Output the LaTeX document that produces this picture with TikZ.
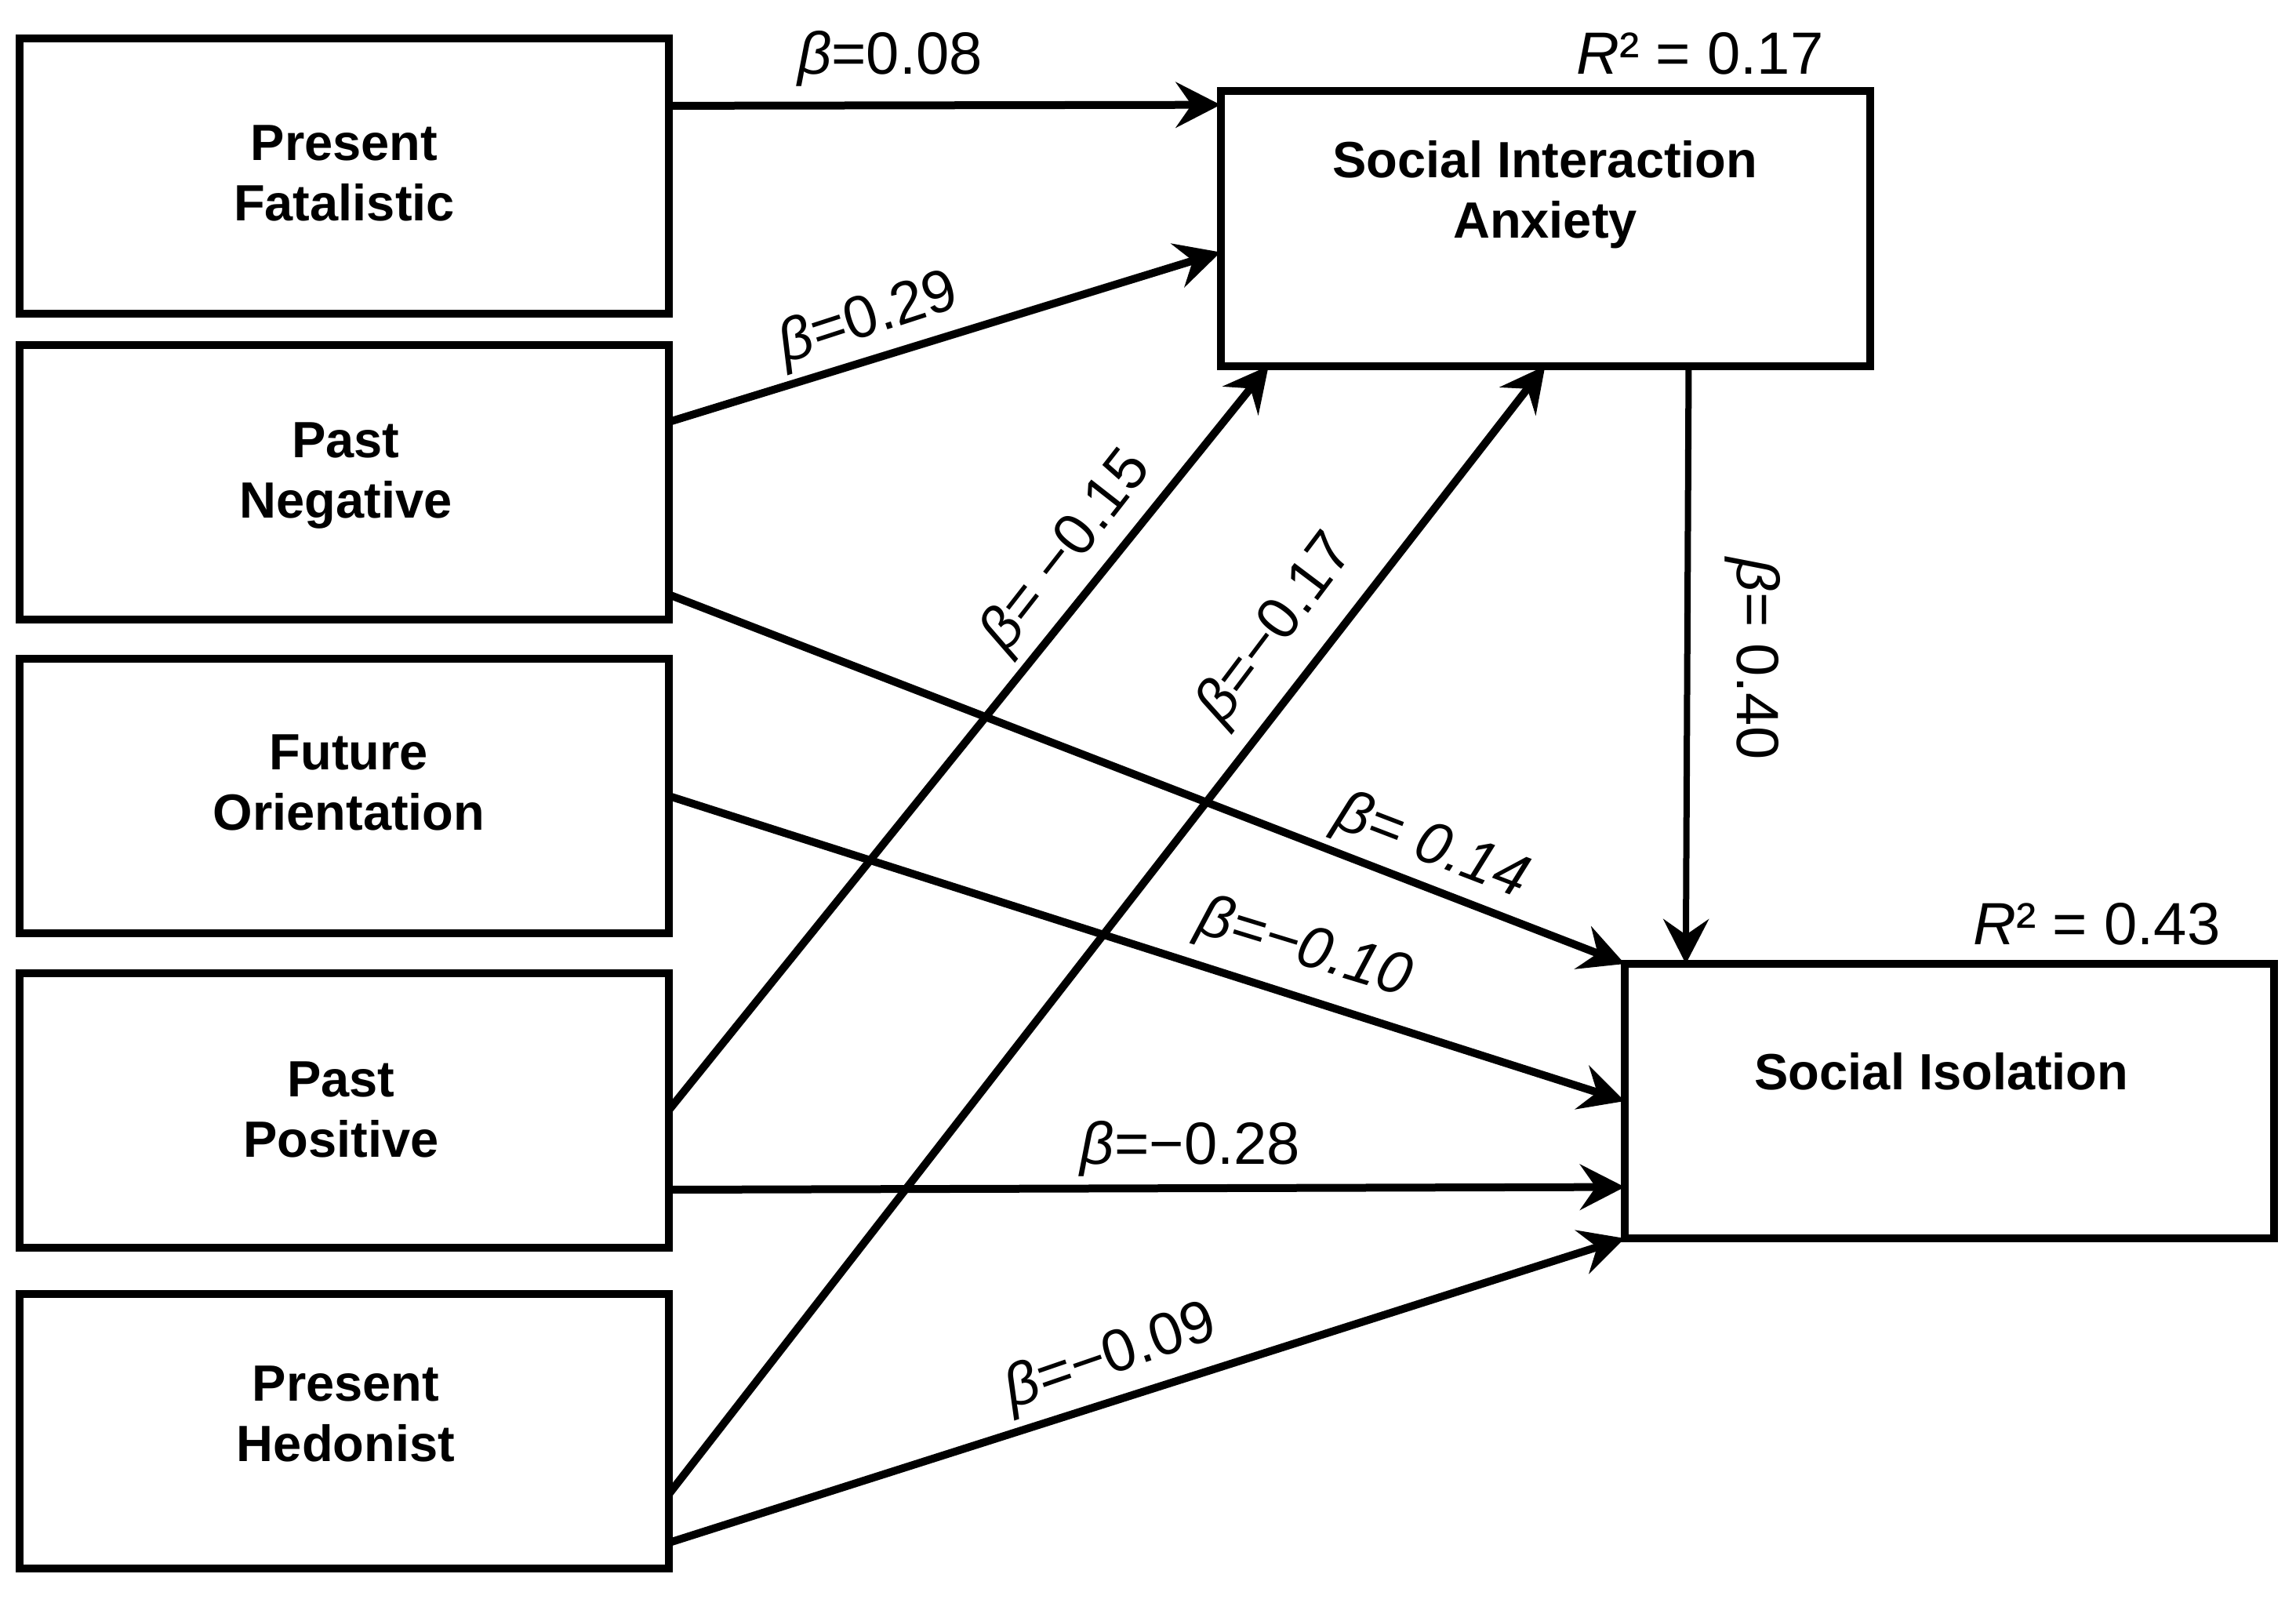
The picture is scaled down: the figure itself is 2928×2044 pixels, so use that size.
\documentclass[tikz,border=0pt]{standalone}
\usepackage{fontspec}
\setmainfont{Liberation Sans}
\usetikzlibrary{arrows.meta,calc}
\begin{document}
\begin{tikzpicture}[x=1pt,y=-1pt,
  box/.style={draw, line width=10pt, minimum width=828pt, minimum height=350pt, inner sep=0pt, outer sep=0pt},
  boxtext/.style={font=\bfseries\fontsize{65}{77}\selectfont, align=center, inner sep=0pt},
  coef/.style={font=\fontsize{76}{90}\selectfont, inner sep=0pt},
  icoef/.style={font=\itshape\fontsize{76}{90}\selectfont, inner sep=0pt},
  arr/.style={line width=10pt, -{Stealth[length=57pt,width=58pt,inset=20pt]}},
]
\fill[white] (0,0) rectangle (2928,2044);
\useasboundingbox (0,0) rectangle (2928,2044);

% boxes
\node[box] (pf) at (439,224.5) {};
\node[box] (pn) at (439,615) {};
\node[box] (fo) at (439,1015) {};
\node[box] (pp) at (439,1415.5) {};
\node[box] (ph) at (439,1825) {};
\node[box] (sia) at (1970.5,291.5) {};
\node[box] (si) at (2486,1404) {};

% box texts
\node[boxtext] (pft) at ($(pf.center)+(0,-4)$) {Present\\Fatalistic};
\node[boxtext] (pnt) at ($(pn.center)+(2,-8)$) {Past\\Negative};
\node[boxtext] (fot) at ($(fo.center)+(6,-17)$) {Future\\Orientation};
\node[boxtext] (ppt) at ($(pp.center)+(-4,-1)$) {Past\\Positive};
\node[boxtext] (pht) at ($(ph.center)+(2,-22)$) {Present\\Hedonist};
\node[boxtext] (siat) at ($(sia.center)+(0,-43)$) {Social Interaction\\Anxiety};
\node[boxtext] (sit) at ($(si.center)+(-10,-38)$) {Social Isolation};

% connectors
\draw[arr] ($(pf.north east)!0.244!(pf.south east)$) -- ($(sia.north west)!0.049!(sia.south west)$);
\draw[arr] ($(pn.north east)!0.28!(pn.south east)$) -- ($(sia.north west)!0.586!(sia.south west)$);
\draw[arr] ($(pn.north east)!0.909!(pn.south east)$) -- (si.north west);
\draw[arr] (fo.east) -- (si.west);
\draw[arr] (pp.east) -- ($(sia.south west)!0.074!(sia.south east)$);
\draw[arr] ($(ph.north east)!0.729!(ph.south east)$) -- (sia.south);
\draw[arr] ($(pp.north east)!0.79!(pp.south east)$) -- ($(si.north west)!0.813!(si.south west)$);
\draw[arr] ($(ph.north east)!0.906!(ph.south east)$) -- (si.south west);
\draw[arr, line width=8pt] ($(sia.south west)!0.721!(sia.south east)$) -- ($(si.north west)!0.094!(si.north east)$);

% coefficient labels
\node[coef] (l08) at (1135,75) {{\itshape β}=0.08};
\node[coef, rotate=18] (l29) at (1108,408) {{\itshape β}=0.29};
\node[coef, rotate=52] (l15) at (1361,704) {{\itshape β}= −0.15};
\node[coef, rotate=53] (l17) at (1628,803) {{\itshape β}=−0.17};
\node[icoef, rotate=-21] (l14) at (1825,1081) {β= 0.14};
\node[icoef, rotate=-17] (l10) at (1663,1211) {β=−0.10};
\node[coef] (l28) at (1518,1465) {{\itshape β}=−0.28};
\node[coef, rotate=19] (l09) at (1417,1732) {{\itshape β}=−0.09};
\node[coef, rotate=-90] (l40) at (2235,840) {{\itshape β}= 0.40};
\node[coef] (r17) at (2168,68) {{\itshape R}² = 0.17};
\node[coef] (r43) at (2674,1178) {{\itshape R}² = 0.43};
\end{tikzpicture}
\end{document}
